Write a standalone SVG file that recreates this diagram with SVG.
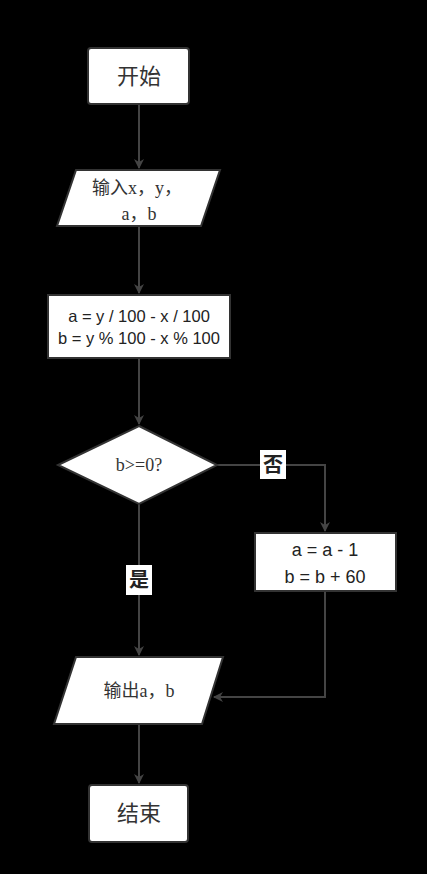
<svg xmlns="http://www.w3.org/2000/svg" width="427" height="874" viewBox="0 0 427 874">
<style>
.shape{fill:#fff;stroke:#333;stroke-width:2}
.edge{fill:none;stroke:#444;stroke-width:2}
.serif{font-family:"Liberation Serif","Noto Sans CJK SC",serif;font-size:18px;fill:#333;text-anchor:middle}
.sans{font-family:"Liberation Sans","Noto Sans CJK SC",sans-serif;font-size:16.5px;fill:#222;text-anchor:middle}
.cjk{font-family:"Noto Sans CJK SC",sans-serif;font-size:22px;fill:#333;text-anchor:middle}
.lbl{font-family:"Noto Sans CJK SC",sans-serif;font-size:20px;font-weight:bold;fill:#222;text-anchor:middle}
</style>
<defs>
<marker id="arr" markerWidth="10" markerHeight="10" refX="9" refY="5" orient="auto" markerUnits="userSpaceOnUse">
<path d="M0,0 L10,5 L0,10 L3,5 Z" fill="#444"/>
</marker>
</defs>
<rect width="427" height="874" fill="#000"/>
<g id="connectors">
<path class="edge" d="M139,104 L139,168" marker-end="url(#arr)"/>
<path class="edge" d="M139,226 L139,293" marker-end="url(#arr)"/>
<path class="edge" d="M139,358 L139,424" marker-end="url(#arr)"/>
<path class="edge" d="M217,465 L325,465 L325,531" marker-end="url(#arr)"/>
<path class="edge" d="M139,504 L139,655" marker-end="url(#arr)"/>
<path class="edge" d="M325,591 L325,697 L214,697" marker-end="url(#arr)"/>
<path class="edge" d="M139,724 L139,783" marker-end="url(#arr)"/>
<g id="label-no"><rect x="260" y="450" width="26" height="29" fill="#fff"/><text class="lbl" x="273" y="472">否</text></g>
<g id="label-yes"><rect x="126" y="565" width="26" height="30" fill="#fff"/><text class="lbl" x="139" y="587">是</text></g>
</g>
<g id="start"><rect class="shape" x="88" y="48" width="101" height="56" rx="3"/><text class="cjk" x="139" y="84">开始</text></g>
<g id="input"><polygon class="shape" points="76,170 220,170 201,226 57,226"/><text class="serif" x="137" y="194">输入x，y，</text><text class="serif" x="139" y="220">a，b</text></g>
<g id="calc"><rect class="shape" x="48" y="295" width="182" height="63"/><text class="sans" x="139" y="322">a = y / 100 - x / 100</text><text class="sans" x="139" y="344">b = y % 100 - x % 100</text></g>
<g id="cond"><polygon class="shape" points="139,426 217,465 139,504 58,465"/><text class="serif" x="139" y="471">b&gt;=0?</text></g>
<g id="adjust"><rect class="shape" x="255" y="533" width="141" height="58"/><text class="sans" x="325" y="556" style="font-size:18px">a = a - 1</text><text class="sans" x="325" y="583" style="font-size:18px">b = b + 60</text></g>
<g id="output"><polygon class="shape" points="76,657 223,657 202,724 54,724"/><text class="serif" x="139" y="697">输出a，b</text></g>
<g id="end"><rect class="shape" x="89" y="785" width="99" height="57" rx="3"/><text class="cjk" x="139" y="821">结束</text></g>
</svg>
